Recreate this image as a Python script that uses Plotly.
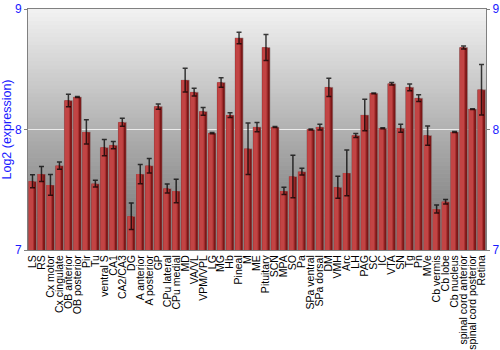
import plotly.graph_objects as go

categories = ["LS", "RS", "Cx motor", "Cx cingulate", "OB anterior", "OB posterior", "Pir", "Tu",
              "ventral S", "CA1", "CA2/CA3", "DG", "A anterior", "A posterior", "GP", "CPu lateral",
              "CPu medial", "MD", "VA/VL", "VPM/VPL", "LG", "MG", "Hb", "Pineal", "M", "ME",
              "Pituitary", "SCN", "MPA", "SO", "Pa", "SPa ventral", "SPa dorsal", "DM", "VMH", "Arc",
              "LH", "PAG", "SC", "IC", "VTA", "SN", "Tg", "Pn", "MVe", "Cb vermis", "Cb lobe",
              "Cb nucleus", "spinal cord anterior", "spinal cord posterior", "Retina"]

values = [7.57, 7.63, 7.54, 7.70, 8.24, 8.27, 7.98, 7.55, 7.85, 7.87,
          8.06, 7.28, 7.63, 7.70, 8.19, 7.51, 7.49, 8.41, 8.31, 8.15,
          7.97, 8.39, 8.12, 8.76, 7.84, 8.02, 8.68, 8.02, 7.49, 7.61,
          7.65, 8.00, 8.02, 8.35, 7.52, 7.64, 7.95, 8.12, 8.30, 8.01,
          8.38, 8.01, 8.35, 8.26, 7.95, 7.34, 7.40, 7.98, 8.68, 8.17,
          8.33]

errors = [0.054, 0.062, 0.086, 0.03, 0.052, 0.004, 0.10, 0.028, 0.068, 0.03,
          0.033, 0.11, 0.08, 0.06, 0.022, 0.037, 0.098, 0.098, 0.032, 0.032,
          0.005, 0.039, 0.02, 0.048, 0.214, 0.039, 0.108, 0.004, 0.03, 0.177,
          0.028, 0.004, 0.024, 0.076, 0.091, 0.19, 0.017, 0.131, 0.003, 0.004,
          0.011, 0.033, 0.028, 0.028, 0.08, 0.033, 0.019, 0.004, 0.012, 0.003,
          0.209]

y_ticks = [7, 8, 9]
BLUE = "#1a1aff"
FONT = "Liberation Sans, Arial, sans-serif"

fig = go.Figure()

# shaded bars: dark base + lighter left bands to imitate a cylinder gradient
fig.add_trace(go.Bar(x=categories, y=values, width=0.9, offset=-0.45,
                     marker=dict(color="#7c1717", line=dict(color="rgba(150,150,150,0.55)", width=1)),
                     hoverinfo="skip", showlegend=False))
fig.add_trace(go.Bar(x=categories, y=values, width=0.62, offset=-0.43,
                     marker=dict(color="#a83030", line=dict(width=0)),
                     hoverinfo="skip", showlegend=False))
fig.add_trace(go.Bar(x=categories, y=values, width=0.46, offset=-0.40,
                     marker=dict(color="#c24444", line=dict(width=0)),
                     hoverinfo="skip", showlegend=False))
# error bars
fig.add_trace(go.Scatter(x=categories, y=values, mode="markers",
                         marker=dict(size=1, opacity=0),
                         error_y=dict(type="data", array=errors, visible=True,
                                      color="rgba(0,0,0,0.75)", thickness=1.5, width=2.5),
                         showlegend=False))
# right axis companion
fig.add_trace(go.Scatter(x=categories, y=values, mode="markers", yaxis="y2",
                         marker=dict(size=1, opacity=0), hoverinfo="skip", showlegend=False))

# vertical background gradient
n = 60
top = (0xf2, 0xf2, 0xf2)
bot = (0x70, 0x70, 0x70)
shapes = []
for i in range(n):
    t = (i + 0.5) / n
    c = tuple(int(round(bot[k] + (top[k] - bot[k]) * t)) for k in range(3))
    shapes.append(dict(type="rect", xref="paper", yref="paper",
                       x0=0, x1=1, y0=i / n, y1=(i + 1) / n + 0.002,
                       fillcolor="rgb(%d,%d,%d)" % c, line=dict(width=0), layer="below"))

fig.update_layout(
    width=500, height=350,
    margin=dict(l=27.5, r=14, t=9, b=100),
    paper_bgcolor="white", plot_bgcolor="#b0b0b0",
    barmode="overlay", bargap=0.1,
    shapes=shapes,
    font=dict(family=FONT),
    xaxis=dict(type="category", tickangle=-90, tickfont=dict(size=10.5, color="black"),
               tickmode="array", tickvals=categories, ticktext=categories,
               showgrid=False, ticks="", showline=True, linecolor="#808080", mirror=True,
               range=[-0.5, len(categories) - 0.5], automargin=False),
    yaxis=dict(range=[7, 9], tickvals=y_ticks, ticks="outside", ticklen=3, tickcolor="#808080",
               tickfont=dict(size=12, color=BLUE), showgrid=True, gridcolor="rgba(255,255,255,0.75)",
               gridwidth=1, zeroline=False, showline=True, linecolor="#808080", mirror=True,
               title=dict(text="Log2 (expression)", font=dict(size=12.5, color=BLUE), standoff=4),
               automargin=False),
    yaxis2=dict(range=[7, 9], tickvals=y_ticks, overlaying="y", side="right", ticks="outside",
                ticklen=3, tickcolor="#808080", tickfont=dict(size=12, color=BLUE),
                showgrid=False, zeroline=False, automargin=False),
)

fig.write_html("out.html")
